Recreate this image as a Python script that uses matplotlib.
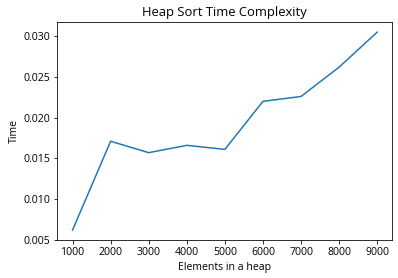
import matplotlib
matplotlib.use('Agg')
import matplotlib.pyplot as plt

plt.rcParams['font.family'] = ['Open Sans', 'DejaVu Sans']
plt.rcParams['font.size'] = 10.5

elements = [1000, 2000, 3000, 4000, 5000, 6000, 7000, 8000, 9000]
tiempos = [0.0062, 0.0171, 0.0157, 0.0166, 0.0161, 0.0220, 0.0226, 0.0262, 0.0305]

fig = plt.figure(figsize=(398/72, 278/72), dpi=72)
ax = fig.add_axes([0.144, 0.137, 0.842, 0.783])
ax.plot(elements, tiempos, color='#1f77b4', linewidth=1.5)
ax.set_xticks(elements)
ax.set_xlabel('Elements in a heap')
ax.set_ylabel('Time')
ax.set_title('Heap Sort Time Complexity', fontsize=13)

fig.savefig('out.png', dpi=72)
